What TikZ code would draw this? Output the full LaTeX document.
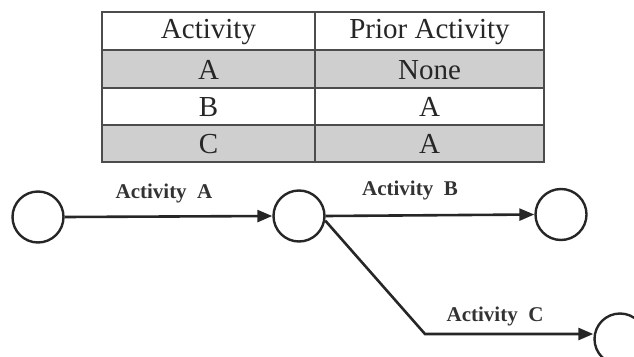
\documentclass[tikz,border=0pt]{standalone}
\usepackage{fontspec}
\setmainfont{Liberation Serif}
\usetikzlibrary{arrows.meta}

\tikzset{
  cellwhite/.style={fill=white, draw=black!70, line width=1.2pt},
  cellgray/.style={fill=black!19, draw=black!70, line width=1.2pt},
  celltext/.style={font=\fontsize{29}{31}\selectfont, text=black!85, inner sep=0pt},
  event/.style={circle, draw=black!85, line width=2.4pt, minimum size=51pt, inner sep=0pt},
  activity/.style={draw=black!85, line width=2.6pt, -{Triangle[length=15pt,width=12pt]}},
  actlabel/.style={font=\fontsize{21}{23}\selectfont\bfseries, text=black!80, inner sep=0pt}
}

\begin{document}
\begin{tikzpicture}[x=1pt, y=-1pt]
  \useasboundingbox (0,0) rectangle (634,356);
  \clip (0,0) rectangle (634,356);

  % precedence table: header row, then rows for A, B, C
  \path[cellwhite] (102,12) rectangle (315,50);
  \path[cellwhite] (315,12) rectangle (544,50);
  \path[cellgray]  (102,50) rectangle (315,88);
  \path[cellgray]  (315,50) rectangle (544,88);
  \path[cellwhite] (102,88) rectangle (315,125);
  \path[cellwhite] (315,88) rectangle (544,125);
  \path[cellgray]  (102,125) rectangle (315,162);
  \path[cellgray]  (315,125) rectangle (544,162);

  \node[celltext] (h1) at (208.5,32) {Activity};
  \node[celltext] (h2) at (429.5,32) {Prior Activity};
  \node[celltext] (a1) at (208.5,70) {A};
  \node[celltext] (a2) at (429.5,70) {None};
  \node[celltext] (b1) at (208.5,107) {B};
  \node[celltext] (b2) at (429.5,107) {A};
  \node[celltext] (c1) at (208.5,144) {C};
  \node[celltext] (c2) at (429.5,144) {A};

  % activity-on-arrow network
  \node[event] (n1) at (38,217) {};
  \node[event] (n2) at (299,216) {};
  \node[event] (n3) at (561,214.5) {};
  \node[event] (n4) at (620,339) {};
  \coordinate (bend) at (425,334);

  \draw[activity] (n1.east) -- (n2.west);
  \draw[activity] (n2.east) -- (n3.west);
  \draw[activity] (n2.-10) -- (bend) -- (n4.west |- bend);

  \node[actlabel] (la) at (164,193) {Activity\ \ A};
  \node[actlabel] (lb) at (410,190.5) {Activity\ \ B};
  \node[actlabel] (lc) at (495,316) {Activity\ \ C};
\end{tikzpicture}
\end{document}
